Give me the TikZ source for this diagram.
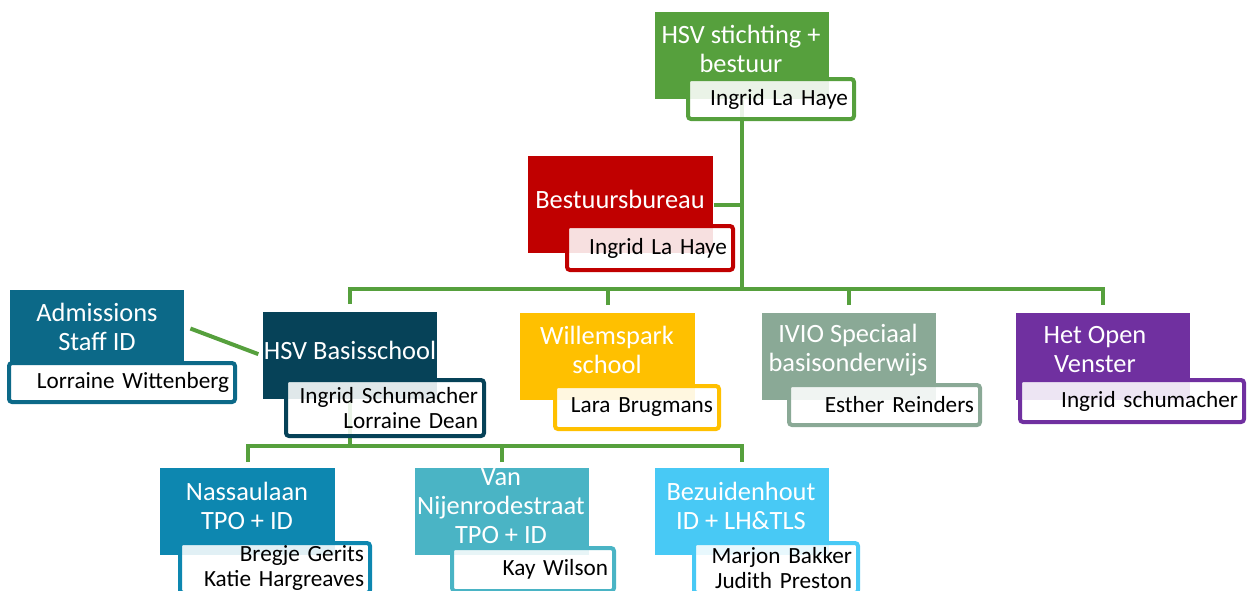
\documentclass[tikz,border=0pt]{standalone}
\usepackage{fontspec}
\setmainfont{Carlito}
\usetikzlibrary{backgrounds}

\definecolor{hsvgreen}{RGB}{86,160,61}
\definecolor{bureaured}{RGB}{192,0,0}
\definecolor{admteal}{RGB}{12,105,136}
\definecolor{basisblue}{RGB}{6,66,88}
\definecolor{willemsgold}{RGB}{255,192,0}
\definecolor{iviosage}{RGB}{138,169,150}
\definecolor{vensterpurple}{RGB}{112,48,160}
\definecolor{nassaublue}{RGB}{13,135,176}
\definecolor{vanteal}{RGB}{74,180,197}
\definecolor{bezuidsky}{RGB}{72,201,245}

\tikzset{
  unit/.style={anchor=north west,inner sep=0pt,minimum width=87pt,minimum height=43.5pt},
  title/.style={text=white,align=center,font=\fontsize{13.2}{14.5}\selectfont},
  names/.style={anchor=north west,draw=#1,line width=2pt,rounded corners=1.5pt,
    fill=white,fill opacity=0.88,text opacity=1,align=right,
    inner xsep=3pt,inner ysep=0pt,font=\fontsize{11.6}{12.8}\selectfont},
  link/.style={draw=hsvgreen,line width=2pt}
}

\begin{document}
\begin{tikzpicture}[x=0.5pt,y=-0.5pt]
\useasboundingbox (0,0) rectangle (1251,590);
\clip (0,0) rectangle (1251,590);

% foundation and office
\node[unit,fill=hsvgreen] (stichting) at (655,12) {};
\node[title] (stichting-t) at (741,49) {HSV stichting +\\bestuur};
\node[names=hsvgreen,text width=77pt,minimum height=20pt] (stichting-n) at (686,77) {Ingrid La Haye};

\node[unit,fill=bureaured,minimum width=92.5pt,minimum height=48.5pt] (bureau) at (528,156) {};
\node[title] (bureau-t) at (620,199) {Bestuursbureau};
\node[names=bureaured,text width=77pt,minimum height=22pt] (bureau-n) at (565,224) {Ingrid La Haye};

% schools
\node[unit,fill=admteal,minimum height=36pt] (adm) at (10,290) {};
\node[title] (adm-t) at (97,327) {Admissions\\Staff ID};
\node[names=admteal,text width=107pt,minimum height=19.5pt] (adm-n) at (7,361) {Lorraine Wittenberg};

\node[unit,fill=basisblue] (basis) at (263,312) {};
\node[title] (basis-t) at (350,350) {HSV Basisschool};
\node[names=basisblue,text width=93pt,minimum height=28pt] (basis-n) at (284,378) {Ingrid Schumacher\\Lorraine Dean};

\node[unit,fill=willemsgold,minimum width=87.5pt] (willems) at (520,313) {};
\node[title] (willems-t) at (607,350) {Willemspark\\school};
\node[names=willemsgold,text width=76pt,minimum height=21.5pt] (willems-n) at (553,384) {Lara Brugmans};

\node[unit,fill=iviosage] (ivio) at (762,313) {};
\node[title] (ivio-t) at (848,350) {IVIO Speciaal\\basisonderwijs};
\node[names=iviosage,text width=89.5pt,minimum height=20pt] (ivio-n) at (787,383) {Esther Reinders};

\node[unit,fill=vensterpurple] (venster) at (1016,313) {};
\node[title] (venster-t) at (1095,350) {Het Open\\Venster};
\node[names=vensterpurple,text width=106pt,minimum height=21pt] (venster-n) at (1018,378) {Ingrid schumacher};

% locations
\node[unit,fill=nassaublue,minimum width=87.5pt] (nassau) at (160,468) {};
\node[title] (nassau-t) at (247,506) {Nassaulaan\\TPO + ID};
\node[names=nassaublue,text width=89pt,minimum height=25pt] (nassau-n) at (178,541) {Bregje Gerits\\Katie Hargreaves};

\node[unit,fill=vanteal] (van) at (415,468) {};
\node[title] (van-t) at (501,506) {Van\\Nijenrodestraat\\TPO + ID};
\node[names=vanteal,text width=75pt,minimum height=21.5pt] (van-n) at (450,546) {Kay Wilson};

\node[unit,fill=bezuidsky] (bezuid) at (655,468) {};
\node[title] (bezuid-t) at (741,506) {Bezuidenhout\\ID + LH\&TLS};
\node[names=bezuidsky,text width=76pt,minimum height=25pt] (bezuid-n) at (692,541) {Marjon Bakker\\Judith Preston};

\coordinate (bus) at (742,289);
\coordinate (subbus) at (350,446);

\begin{scope}[on background layer]
\draw[link] (stichting.south) -- (stichting.south |- bus);
\draw[link] (bureau.east) -- (bureau.east -| stichting.south);
\draw[link] ([yshift=4pt]basis.north) |- (bus) -| ([yshift=4pt]venster.north);
\draw[link] ([yshift=4pt]willems.north) -- (willems.north |- bus);
\draw[link] ([yshift=4pt]ivio.north) -- (ivio.north |- bus);
\draw[link,shorten <=3pt,shorten >=2.5pt] (adm.east) -- (basis.west);
\draw[link] (basis.south) -- (basis.south |- subbus);
\draw[link] ([yshift=3pt]nassau.north) |- (subbus) -| ([yshift=3pt]bezuid.north);
\draw[link] ([yshift=3pt]van.north) -- (van.north |- subbus);
\end{scope}
\end{tikzpicture}
\end{document}
